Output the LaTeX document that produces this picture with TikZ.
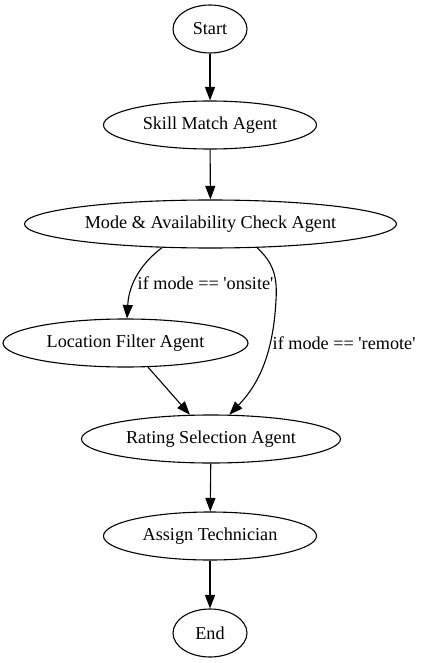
\documentclass[tikz,border=0pt]{standalone}
\usepackage{fontspec}
\setmainfont{Liberation Serif}
\usetikzlibrary{shapes.geometric,arrows.meta}
\begin{document}
\begin{tikzpicture}[x=1pt,y=-1pt,
  every node/.style={font=\fontsize{18.2}{22}\selectfont},
  st/.style={draw,ellipse,line width=1.1pt,inner sep=0pt,minimum height=48pt},
  lbl/.style={anchor=west,inner sep=0pt},
  edge/.style={line width=1.1pt,-{Triangle[length=13.5pt,width=10pt]}}]
\useasboundingbox (0,0) rectangle (425,663);
\node[st,minimum width=74pt]  (start) at (210,29)  {Start};
\node[st,minimum width=213pt] (skill) at (210,125) {Skill Match Agent};
\node[st,minimum width=372pt] (mode)  at (210.5,224) {Mode \& Availability Check Agent};
\node[st,minimum width=245pt] (loc)   at (125.5,343) {Location Filter Agent};
\node[st,minimum width=259pt] (rate)  at (211,439) {Rating Selection Agent};
\node[st,minimum width=213pt] (assign) at (210,536) {Assign Technician};
\node[st,minimum width=74pt]  (end)   at (210,633) {End};
\node[lbl] (l1) at (137.5,283) {if mode == \textquotesingle onsite\textquotesingle};
\node[lbl] (l2) at (272.5,343) {if mode == \textquotesingle remote\textquotesingle};
\draw[edge] (start) -- (skill);
\draw[edge] (skill) -- (mode);
\draw[edge] (mode.206) .. controls (143,262) and (129,282) .. ([xshift=1.5pt]loc.north);
\draw[edge] (mode.333) .. controls (270,260) and (278,272) .. (276,300)
  .. controls (273,360) and (255,388) .. (rate.53);
\draw[edge] (loc.313) -- (rate.131);
\draw[edge] (rate) -- (assign);
\draw[edge] (assign) -- (end);
\end{tikzpicture}
\end{document}
